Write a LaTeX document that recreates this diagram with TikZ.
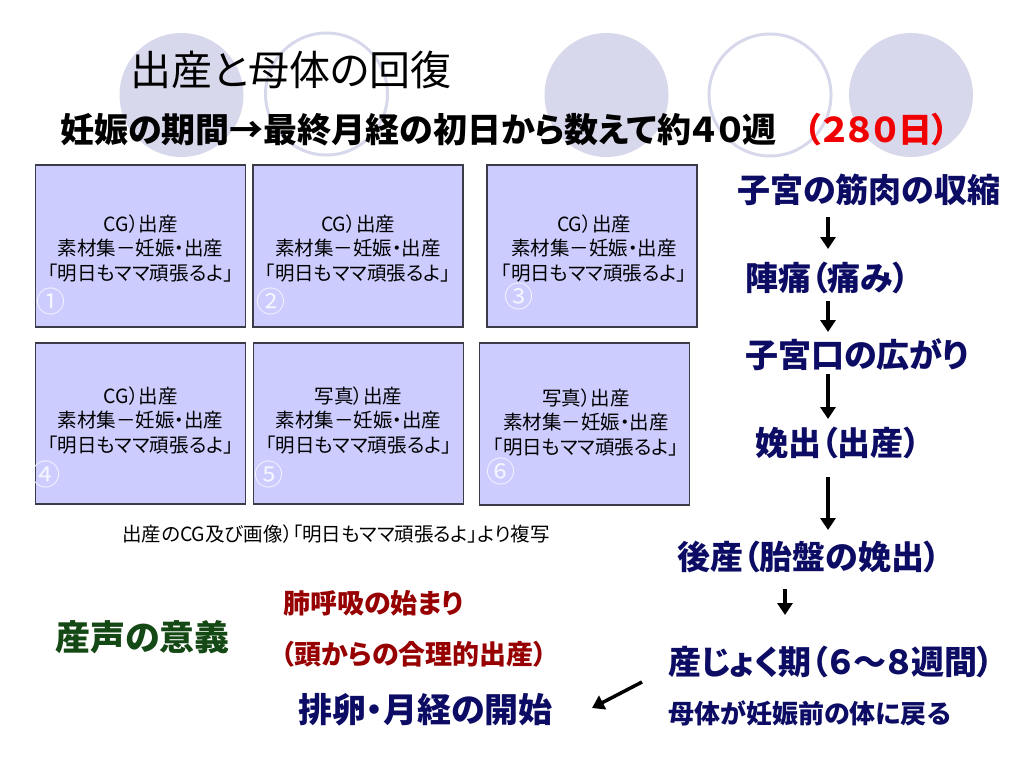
\documentclass[tikz,border=0pt]{standalone}
\usepackage{fontspec}
\usetikzlibrary{arrows.meta}
\newfontfamily\jp{Noto Sans CJK JP}[RawFeature=+palt]
\newfontfamily\jpn{Noto Sans CJK JP}
\definecolor{circ}{RGB}{216,216,236}
\definecolor{boxfill}{RGB}{204,204,255}
\definecolor{boxline}{RGB}{60,60,72}
\definecolor{numcol}{RGB}{245,245,255}
\definecolor{navy}{RGB}{12,12,100}
\definecolor{dred}{RGB}{150,0,0}
\definecolor{dgreen}{RGB}{20,72,20}
\definecolor{bright}{RGB}{240,0,0}
\tikzset{
  circfill/.style={fill=circ},
  circline/.style={draw=circ, line width=3pt},
  photo/.style={draw=boxline, fill=boxfill, line width=1.2pt, minimum width=210pt, minimum height=162pt, inner sep=0pt},
  boxtxt/.style={font=\jp\fontsize{19.5}{24.5}\selectfont, align=center, inner sep=0pt},
  num/.style={font=\jpn\fontsize{29}{29}\selectfont, text=numcol, inner sep=0pt},
  stage/.style={font=\jp\bfseries\fontsize{33}{36}\selectfont, text=navy, anchor=west, inner sep=0pt},
  arr/.style={-{Triangle[width=15pt,length=12pt]}, line width=3.5pt},
}
\begin{document}
\begin{tikzpicture}[x=1pt,y=-1pt]
\useasboundingbox (0,0) rectangle (1024,768);
% decorative circles
\fill[circfill] (181.5,95) circle (62pt);
\draw[circline] (326.5,94) circle (61pt);
\fill[circfill] (606.5,95) circle (62pt);
\draw[circline] (770,95) circle (61pt);
\fill[circfill] (911,95) circle (62pt);
% title
\node[font=\jp\fontsize{41}{44}\selectfont, anchor=west, inner sep=0pt] (title) at (130,70) {出産と母体の回復};
\node[font=\jp\bfseries\fontsize{34}{36}\selectfont, anchor=west, inner sep=0pt] (sub) at (60,130) {妊娠の期間→最終月経の初日から数えて約４０週\hspace{27pt}\textcolor{bright}{（２８０日）}};
% photo boxes
\node[photo] (b1) at (140.5,246) {};
\node[photo] (b2) at (358,246) {};
\node[photo] (b3) at (592,246) {};
\node[photo, minimum height=161pt] (b4) at (140.5,423.5) {};
\node[photo, minimum height=161pt] (b5) at (358.5,423.5) {};
\node[photo] (b6) at (584.5,424) {};
\node[boxtxt] (t1) at (140.5,248) {CG）出産\\素材集－妊娠・出産\\「明日もママ頑張るよ」};
\node[boxtxt] (t2) at (358,248) {CG）出産\\素材集－妊娠・出産\\「明日もママ頑張るよ」};
\node[boxtxt] (t3) at (594,248) {CG）出産\\素材集－妊娠・出産\\「明日もママ頑張るよ」};
\node[boxtxt] (t4) at (140.5,420) {CG）出産\\素材集－妊娠・出産\\「明日もママ頑張るよ」};
\node[boxtxt] (t5) at (358.5,420) {写真）出産\\素材集－妊娠・出産\\「明日もママ頑張るよ」};
\node[boxtxt] (t6) at (586,422) {写真）出産\\素材集－妊娠・出産\\「明日もママ頑張るよ」};
\node[num] (n1) at (51,301) {①};
\node[num] (n2) at (271,301) {②};
\node[num] (n3) at (519,296) {③};
\node[num] (n4) at (46,474) {④};
\node[num] (n5) at (269,474) {⑤};
\node[num] (n6) at (501,471) {⑥};
\node[font=\jp\fontsize{19.5}{22}\selectfont, inner sep=0pt] (cap) at (336,534) {出産のCG及び画像）「明日もママ頑張るよ」より複写};
% right column
\node[stage] (s1) at (737,190) {子宮の筋肉の収縮};
\node[stage] (s2) at (745,278) {陣痛（痛み）};
\node[stage] (s3) at (745,355) {子宮口の広がり};
\node[stage] (s4) at (755,443) {娩出（出産）};
\node[stage] (s5) at (677,557) {後産（胎盤の娩出）};
\node[stage] (s6) at (668,662) {産じょく期（６～８週間）};
\node[stage, font=\jp\bfseries\fontsize{26}{28}\selectfont] (s7) at (668,713) {母体が妊娠前の体に戻る};
\coordinate (a1s) at (828,217); \coordinate (a1e) at (828,249);
\coordinate (a2s) at (828,301); \coordinate (a2e) at (828,332);
\coordinate (a3s) at (828,374); \coordinate (a3e) at (828,419);
\coordinate (a4s) at (828,477); \coordinate (a4e) at (828,530);
\coordinate (a5s) at (785,589); \coordinate (a5e) at (785,615);
\coordinate (a6s) at (642,682); \coordinate (a6e) at (592,708);
\draw[arr] (a1s) -- (a1e);
\draw[arr] (a2s) -- (a2e);
\draw[arr] (a3s) -- (a3e);
\draw[arr] (a4s) -- (a4e);
\draw[arr] (a5s) -- (a5e);
\draw[arr] (a6s) -- (a6e);
% bottom left
\node[font=\jp\bfseries\fontsize{35}{38}\selectfont, text=dgreen, anchor=west, inner sep=0pt] (ub) at (55,637) {産声の意義};
\node[font=\jp\bfseries\fontsize{27}{30}\selectfont, text=dred, anchor=west, inner sep=0pt] (lung) at (283,603) {肺呼吸の始まり};
\node[font=\jp\bfseries\fontsize{27}{30}\selectfont, text=dred, anchor=west, inner sep=0pt] (head) at (281,654) {（頭からの合理的出産）};
\node[font=\jp\bfseries\fontsize{34}{36}\selectfont, text=navy, anchor=west, inner sep=0pt] (ovu) at (298,710) {排卵・月経の開始};
\end{tikzpicture}
\end{document}
